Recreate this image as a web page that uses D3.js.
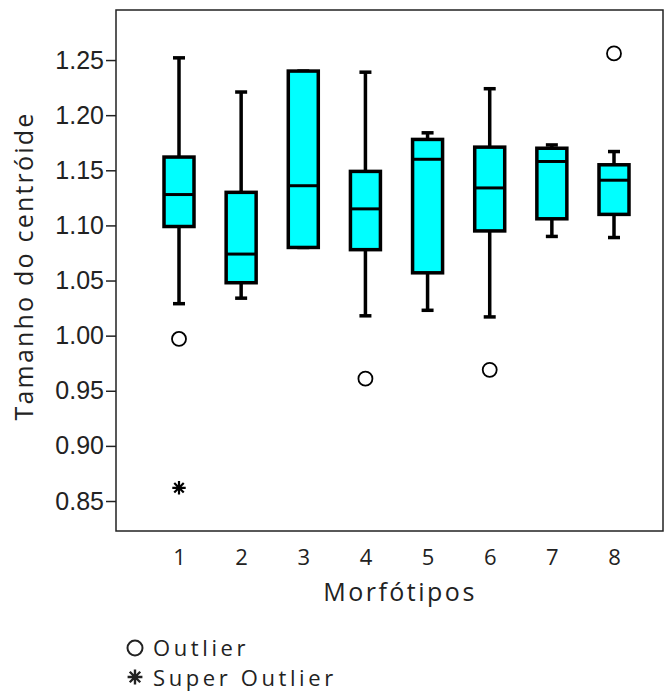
<!DOCTYPE html>
<html>
<head>
<meta charset="utf-8">
<script src="https://cdn.jsdelivr.net/npm/d3@7"></script>
<style>
  body { margin: 0; background: #fff; }
  svg { display: block; }
</style>
</head>
<body>
<div id="chart"></div>
<script>
// data
var categories = ["1", "2", "3", "4", "5", "6", "7", "8"];
var whiskerLow  = [1.029, 1.034, 1.080, 1.018, 1.023, 1.017, 1.090, 1.089];
var q1          = [1.099, 1.048, 1.080, 1.078, 1.057, 1.095, 1.106, 1.110];
var medians     = [1.128, 1.074, 1.136, 1.115, 1.160, 1.134, 1.158, 1.141];
var q3          = [1.162, 1.130, 1.240, 1.149, 1.178, 1.171, 1.170, 1.155];
var whiskerHigh = [1.252, 1.221, 1.240, 1.239, 1.184, 1.224, 1.173, 1.167];
var outliers = [
  {cat: "1", v: 0.997},
  {cat: "4", v: 0.961},
  {cat: "6", v: 0.969},
  {cat: "8", v: 1.256}
];
var superOutliers = [{cat: "1", v: 0.862}];
var yTicks = [0.85, 0.90, 0.95, 1.00, 1.05, 1.10, 1.15, 1.20, 1.25];
var legendItems = ["Outlier", "Super Outlier"];

var w = 665, h = 692;
var frame = {left: 116, right: 663, top: 10, bottom: 531};

var svg = d3.select("#chart").append("svg")
  .attr("width", w)
  .attr("height", h);

var x = d3.scalePoint()
  .domain(categories)
  .range([179, 614]);

var y = d3.scaleLinear()
  .domain([0.8228, 1.2954])
  .range([frame.bottom, frame.top]);

var boxes = categories.map(function(c, i) {
  return {cat: c, lo: whiskerLow[i], q1: q1[i], med: medians[i], q3: q3[i], hi: whiskerHigh[i]};
});

var sans = "'Open Sans', 'Noto Sans', sans-serif";

// frame
svg.append("rect")
  .attr("x", frame.left)
  .attr("y", frame.top)
  .attr("width", frame.right - frame.left)
  .attr("height", frame.bottom - frame.top)
  .attr("fill", "none")
  .attr("stroke", "#222")
  .attr("stroke-width", 1.5);

// y axis
var yAxis = svg.append("g")
  .attr("transform", "translate(" + frame.left + ",0)")
  .call(d3.axisLeft(y).tickValues(yTicks).tickFormat(d3.format(".2f")).tickSize(10).tickPadding(2));
yAxis.select(".domain").remove();
yAxis.selectAll("line").attr("stroke", "#222").attr("stroke-width", 1.5);
yAxis.selectAll("text")
  .style("font-family", "'Liberation Sans', Arial, sans-serif")
  .style("font-size", "25px")
  .attr("fill", "#222");

// x axis labels
var xAxis = svg.append("g")
  .attr("transform", "translate(0," + frame.bottom + ")")
  .call(d3.axisBottom(x).tickSize(0).tickPadding(18));
xAxis.select(".domain").remove();
xAxis.selectAll("text")
  .style("font-family", sans)
  .style("font-size", "22px")
  .attr("fill", "#222");

// axis titles
svg.append("text")
  .attr("transform", "translate(33,266) rotate(-90)")
  .attr("text-anchor", "middle")
  .style("font-family", sans)
  .style("font-size", "25px")
  .style("letter-spacing", "2.2px")
  .attr("fill", "#222")
  .text("Tamanho do centróide");

svg.append("text")
  .attr("x", 400)
  .attr("y", 601)
  .attr("text-anchor", "middle")
  .style("font-family", sans)
  .style("font-size", "25px")
  .style("letter-spacing", "2.5px")
  .attr("fill", "#222")
  .text("Morfótipos");

// boxes
var boxW = 30, capW = 12;
var g = svg.append("g")
  .selectAll("g")
  .data(boxes)
  .enter()
  .append("g");

g.append("line")
  .attr("x1", function(d) { return x(d.cat); })
  .attr("x2", function(d) { return x(d.cat); })
  .attr("y1", function(d) { return y(d.lo); })
  .attr("y2", function(d) { return y(d.hi); })
  .attr("stroke", "#000")
  .attr("stroke-width", 3.5);

g.selectAll(".cap")
  .data(function(d) { return [{cat: d.cat, v: d.lo}, {cat: d.cat, v: d.hi}]; })
  .enter()
  .append("line")
  .attr("class", "cap")
  .attr("x1", function(d) { return x(d.cat) - capW / 2; })
  .attr("x2", function(d) { return x(d.cat) + capW / 2; })
  .attr("y1", function(d) { return y(d.v); })
  .attr("y2", function(d) { return y(d.v); })
  .attr("stroke", "#000")
  .attr("stroke-width", 3.5);

g.append("rect")
  .attr("x", function(d) { return x(d.cat) - boxW / 2; })
  .attr("y", function(d) { return y(d.q3); })
  .attr("width", boxW)
  .attr("height", function(d) { return y(d.q1) - y(d.q3); })
  .attr("fill", "#00ffff")
  .attr("stroke", "#000")
  .attr("stroke-width", 3.5);

g.append("line")
  .attr("x1", function(d) { return x(d.cat) - boxW / 2; })
  .attr("x2", function(d) { return x(d.cat) + boxW / 2; })
  .attr("y1", function(d) { return y(d.med); })
  .attr("y2", function(d) { return y(d.med); })
  .attr("stroke", "#000")
  .attr("stroke-width", 3);

// 8-armed asterisk
var star = {
  draw: function(context, size) {
    var r = Math.sqrt(size) / 2;
    for (var k = 0; k < 4; k++) {
      var a = k * Math.PI / 4;
      context.moveTo(-r * Math.cos(a), -r * Math.sin(a));
      context.lineTo(r * Math.cos(a), r * Math.sin(a));
    }
  }
};

// outliers
svg.append("g")
  .selectAll("circle")
  .data(outliers)
  .enter()
  .append("circle")
  .attr("cx", function(d) { return x(d.cat); })
  .attr("cy", function(d) { return y(d.v); })
  .attr("r", 7)
  .attr("fill", "none")
  .attr("stroke", "#000")
  .attr("stroke-width", 1.8);

svg.append("g")
  .selectAll("path")
  .data(superOutliers)
  .enter()
  .append("path")
  .attr("transform", function(d) { return "translate(" + x(d.cat) + "," + y(d.v) + ")"; })
  .attr("d", d3.symbol().type(star).size(180))
  .attr("fill", "none")
  .attr("stroke", "#000")
  .attr("stroke-width", 2.2);

// legend
var legend = svg.append("g");
legend.append("circle")
  .attr("cx", 135)
  .attr("cy", 648)
  .attr("r", 7.5)
  .attr("fill", "none")
  .attr("stroke", "#222")
  .attr("stroke-width", 2);
legend.append("path")
  .attr("transform", "translate(135,677)")
  .attr("d", d3.symbol().type(star).size(220))
  .attr("fill", "none")
  .attr("stroke", "#222")
  .attr("stroke-width", 2.4);
legend.selectAll("text")
  .data(legendItems)
  .enter()
  .append("text")
  .attr("x", 153)
  .attr("y", function(d, i) { return 656 + i * 30; })
  .style("font-family", sans)
  .style("font-size", "22px")
  .style("letter-spacing", "3.6px")
  .attr("fill", "#222")
  .text(function(d) { return d; });
</script>
</body>
</html>
